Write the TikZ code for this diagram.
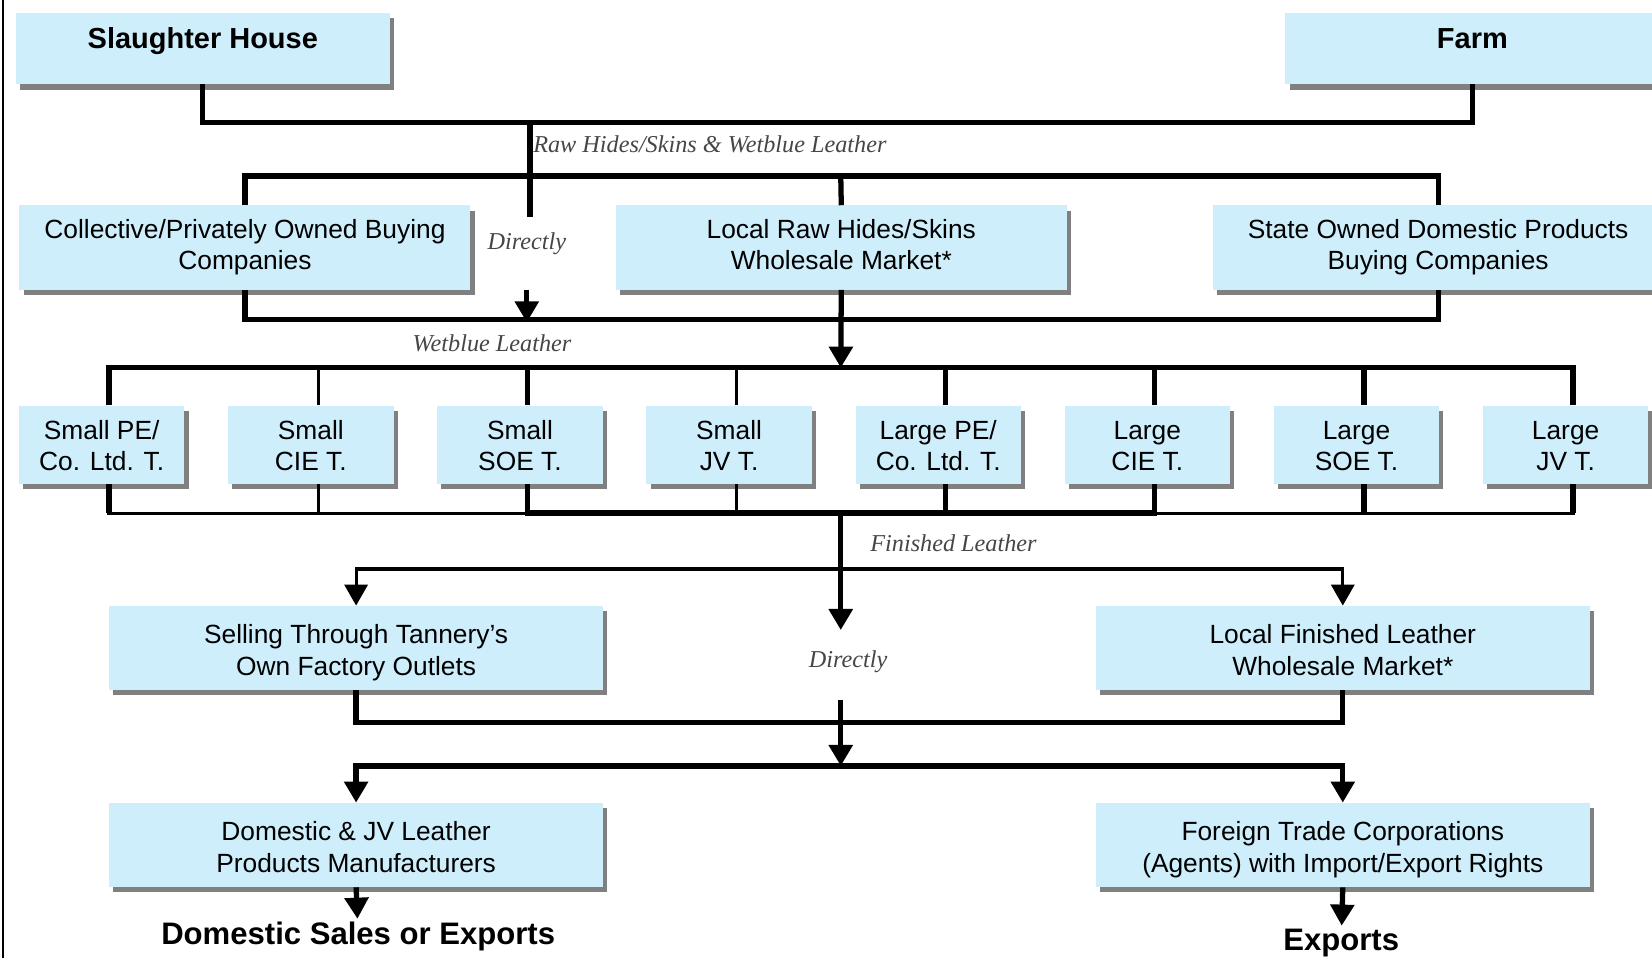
\documentclass[tikz,border=0pt]{standalone}
\usepackage{fontspec}
\setmainfont{Liberation Sans}
\newfontfamily\labelfont{Liberation Serif}
\usepackage{xcolor}
\usetikzlibrary{positioning,shadows,arrows.meta}
\definecolor{boxblue}{RGB}{206,238,252}
\definecolor{boxshade}{RGB}{128,128,128}
\definecolor{labelgray}{RGB}{70,70,70}

\begin{document}
\begin{tikzpicture}[x=1pt,y=-1pt,on grid,>={Triangle[width=22pt,length=20pt]},
    box/.style={fill=boxblue,drop shadow={shadow xshift=4pt,shadow yshift=-5pt,fill=boxshade,opacity=1},
      align=center,inner sep=0pt,minimum width=428pt,minimum height=80pt,
      font=\fontsize{25pt}{29pt}\selectfont,text depth=6pt},
    hbox/.style={box,minimum width=355pt,minimum height=68pt,
      font=\fontsize{27.5pt}{32pt}\selectfont\bfseries,text height=20pt,text depth=19pt},
    tbox/.style={box,minimum width=157pt,minimum height=74pt,text height=55pt},
    wbox/.style={box,minimum width=469pt,font=\fontsize{25pt}{31pt}\selectfont,text height=59pt},
    note/.style={font=\labelfont\itshape\fontsize{23pt}{27pt}\selectfont,text=labelgray,inner sep=1pt},
    outtext/.style={font=\fontsize{29.5pt}{34pt}\selectfont\bfseries,inner sep=3pt},
    wire/.style={line width=5pt},
    thinwire/.style={line width=3pt}]
   \useasboundingbox (0,0) rectangle (1568,909);
   \clip (0,0) rectangle (1568,909);
   \draw[line width=2pt] (3,0) -- (3,909);

   \node[hbox] (sh) at (192.5,46) {Slaughter House};
   \node[hbox] (farm) at (1397.5,46) {Farm};
   \node[box] (coll) at (232.5,235) {Collective/Privately Owned Buying\\Companies};
   \node[box] (lraw) at (798.5,235) {Local Raw Hides/Skins\\Wholesale Market*};
   \node[box] (state) at (1365,235) {State Owned Domestic Products\\Buying Companies};

   \node[tbox] (t_1) at (96.5,422) {Small PE/\\Co. Ltd. T.};
   \node[tbox] (t_2) [right=198.5pt of t_1] {Small\\CIE T.};
   \node[tbox] (t_3) [right=198.5pt of t_2] {Small\\SOE T.};
   \node[tbox] (t_4) [right=198.5pt of t_3] {Small\\JV T.};
   \node[tbox] (t_5) [right=198.5pt of t_4] {Large PE/\\Co. Ltd. T.};
   \node[tbox] (t_6) [right=198.5pt of t_5] {Large\\CIE T.};
   \node[tbox] (t_7) [right=198.5pt of t_6] {Large\\SOE T.};
   \node[tbox] (t_8) [right=198.5pt of t_7] {Large\\JV T.};

   \node[wbox] (sell) at (338,615) {Selling Through Tannery's\\Own Factory Outlets};
   \node[wbox] (lfin) at (1274.5,615) {Local Finished Leather\\Wholesale Market*};
   \node[wbox] (dom) at (338,802) {Domestic \& JV Leather\\Products Manufacturers};
   \node[wbox] (ftc) at (1274.5,802) {Foreign Trade Corporations\\(Agents) with Import/Export Rights};
   \node[outtext] (dsales) at (340,889) {Domestic Sales or Exports};
   \node[outtext] (exp) at (1273,895) {Exports};

   \node[note,anchor=west] (rawlbl) at (505,137) {Raw Hides/Skins \& Wetblue Leather};
   \node[note] (dir_1) at (500,231) {Directly};
   \node[note] (wetlbl) at (467,326) {Wetblue Leather};
   \node[note] (finlbl) at (905,516) {Finished Leather};
   \node[note] (dir_2) at (805,628) {Directly};

   \coordinate (raw) at (503,116);
   \coordinate (rawend) at (503,206);
   \coordinate (dist) at (798,167);
   \coordinate (dirtop) at (500,275);
   \coordinate (wetin) at (500,306);
   \coordinate (cbus) at (798,303);
   \coordinate (tbus) at (798,349);
   \coordinate (finbus) at (798,487);
   \coordinate (split) at (798,540);
   \coordinate (fdir) at (798,598);
   \coordinate (dirbot) at (798,664);
   \coordinate (mbus) at (798,686);
   \coordinate (xbus) at (798,727);

   \draw[wire] (sh.south) |- (raw) -| (farm.south);
   \draw[wire] (raw) -- (rawend);
   \draw[wire] (coll.north) |- (dist) -| (state.north);
   \draw[wire] (dist) -- (lraw.north);
   \draw[wire,->] (dirtop) -- (wetin);
   \draw[wire] (coll.south) |- (cbus) -| (state.south);
   \draw[wire,->] (lraw.south) -- (tbus);

   \foreach \i in {1,...,8} {
     \path (t_\i.north) ++(7,0) coordinate (up_\i);
     \path (t_\i.south) ++(7,0) coordinate (dn_\i);
   }
   \draw[wire] (up_1) |- (tbus) -| (up_8);
   \foreach \i in {3,5,6,7} \draw[wire] (up_\i) -- (up_\i |- tbus);
   \foreach \i in {2,4} \draw[thinwire] (up_\i) -- (up_\i |- tbus);
   \draw[thinwire] (dn_1) |- (finbus) -| (dn_8);
   \draw[wire] (dn_3) |- (finbus) -| (dn_6);
   \foreach \i in {1,5,7,8} \draw[wire] (dn_\i) -- (dn_\i |- finbus);
   \foreach \i in {2,4} \draw[thinwire] (dn_\i) -- (dn_\i |- finbus);

   \draw[wire,->] (finbus) -- (fdir);
   \draw[thinwire,->] (split) -| (sell.north);
   \draw[thinwire,->] (split) -| (lfin.north);
   \draw[wire] (sell.south) |- (mbus) -| (lfin.south);
   \draw[wire,->] (dirbot) -- (xbus);
   \draw[wire,->] (xbus) -| (dom.north);
   \draw[wire,->] (xbus) -| (ftc.north);
   \draw[wire,->] (dom.south) -- (dsales);
   \draw[wire,->] (ftc.south) -- (exp);
\end{tikzpicture}
\end{document}
